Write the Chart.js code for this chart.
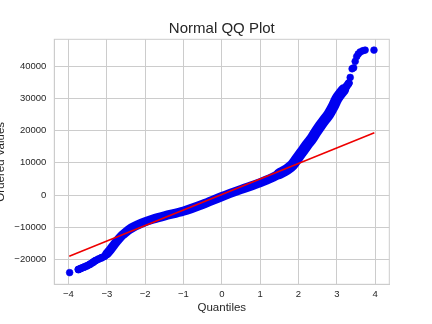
<!DOCTYPE html>
<html>
<head>
<meta charset="utf-8">
<script src="https://cdn.jsdelivr.net/npm/chart.js@4/dist/chart.umd.min.js"></script>
<style>
html,body{margin:0;padding:0;background:#fff;}
#wrap{width:432px;height:324px;position:relative;}
</style>
</head>
<body>
<div id="wrap"><canvas id="c" width="432" height="324"></canvas></div>
<script>
// Dense part of the ordered values (theoretical quantile, ordered value)
const bandQ = [-3.74,-3.68,-3.6,-3.52,-3.44,-3.36,-3.3,-3.22,-3.14,-3.06,-3.0,-2.9,-2.8,-2.7,-2.6,-2.5,-2.4,-2.3,-2.2,-2.0,-1.8,-1.5,-1.0,-0.5,0.0,0.5,1.0,1.3,1.5,1.7,1.85,2.0,2.13,2.25,2.35,2.45,2.57,2.68,2.79,2.9,3.0,3.1,3.18,3.25,3.31];
const bandV = [-23100,-22800,-22400,-22000,-21500,-20900,-20400,-19900,-19500,-19000,-18300,-16900,-15300,-13800,-12500,-11500,-10600,-9900,-9300,-8300,-7500,-6500,-5000,-2900,-500,1700,3800,5300,6600,7900,9400,11900,14000,16000,17500,19400,21500,23300,25000,27300,29800,31500,32700,33700,34700];
// Isolated points in the tails
const tailQ = [-3.97,-3.74,3.35,3.40,3.44,3.48,3.52,3.56,3.61,3.68,3.74,3.97];
const tailV = [-24100,-23200,36500,39200,39500,41500,43000,43800,44400,44800,45000,45000];
// Fitted reference line end points
const fitQ = [-3.98, 3.98];
const fitV = [-19050, 19300];
// Axis ticks
const xTicks = [-4,-3,-2,-1,0,1,2,3,4];
const yTicks = [-20000,-10000,0,10000,20000,30000,40000];

const toPts = (xs, ys) => xs.map((x, i) => ({x: x, y: ys[i]}));
const fmt = v => v < 0 ? '\u2212' + Math.abs(v) : String(v);
const BLUE = '#0000f0';
const GRID = '#cccccc';
const TXT = '#262626';
const FONT = "'Liberation Sans', Arial, sans-serif";

const frame = {
  id: 'frame',
  afterDatasetsDraw(chart) {
    const a = chart.chartArea, ctx = chart.ctx;
    ctx.save();
    ctx.strokeStyle = GRID;
    ctx.lineWidth = 1;
    ctx.strokeRect(a.left, a.top, a.right - a.left, a.bottom - a.top);
    ctx.restore();
  }
};

function bandWidth(q) {
  if (q < -3.0) return 7.5;
  if (q < 1.5) return 9.2;
  if (q < 3.18) return 11;
  return 8;
}

new Chart(document.getElementById('c'), {
  type: 'scatter',
  data: {
    datasets: [
      {
        data: toPts(fitQ, fitV),
        showLine: true,
        borderColor: '#ee0000',
        borderWidth: 1.6,
        pointRadius: 0
      },
      {
        data: toPts(tailQ, tailV),
        backgroundColor: BLUE,
        borderColor: BLUE,
        pointRadius: 3.4,
        borderWidth: 0.6
      },
      {
        data: toPts(bandQ, bandV),
        showLine: true,
        borderColor: BLUE,
        backgroundColor: BLUE,
        borderWidth: 9.2,
        borderCapStyle: 'round',
        borderJoinStyle: 'round',
        cubicInterpolationMode: 'monotone',
        pointRadius: 3.7,
        pointBorderWidth: 0,
        segment: {
          borderWidth: ctx => bandWidth(ctx.p0.parsed.x)
        }
      }
    ]
  },
  options: {
    responsive: false,
    animation: false,
    devicePixelRatio: 1,
    layout: { padding: { left: -7, right: 42.7, top: 20, bottom: 0 } },
    plugins: {
      legend: { display: false },
      tooltip: { enabled: false },
      title: {
        display: true,
        text: 'Normal QQ Plot',
        fullSize: false,
        color: TXT,
        font: { family: FONT, size: 15, weight: 'normal' },
        padding: { top: 0, bottom: 1.3 }
      }
    },
    scales: {
      x: {
        type: 'linear',
        min: -4.37, max: 4.37,
        afterBuildTicks: s => { s.ticks = xTicks.map(v => ({value: v})); },
        afterFit: s => { s.height = 39.7; },
        grid: { color: GRID, lineWidth: 1, drawTicks: false },
        border: { display: true, color: GRID },
        ticks: { color: TXT, padding: 4, maxRotation: 0, font: { family: FONT, size: 9.5 }, callback: v => fmt(v) },
        title: { display: true, text: 'Quantiles', color: TXT, font: { family: FONT, size: 11.5 }, padding: { top: 0, bottom: 9.4 } }
      },
      y: {
        type: 'linear',
        min: -27730, max: 48350,
        afterBuildTicks: s => { s.ticks = yTicks.map(v => ({value: v})); },
        afterFit: s => { s.width = 61.3; },
        grid: { color: GRID, lineWidth: 1, drawTicks: false },
        border: { display: true, color: GRID },
        ticks: { color: TXT, padding: 8, font: { family: FONT, size: 9.5 }, callback: v => fmt(v) },
        title: { display: true, text: 'Ordered Values', color: TXT, font: { family: FONT, size: 11.5 }, padding: { top: 0.5, bottom: 0 } }
      }
    }
  },
  plugins: [frame]
});
</script>
</body>
</html>
